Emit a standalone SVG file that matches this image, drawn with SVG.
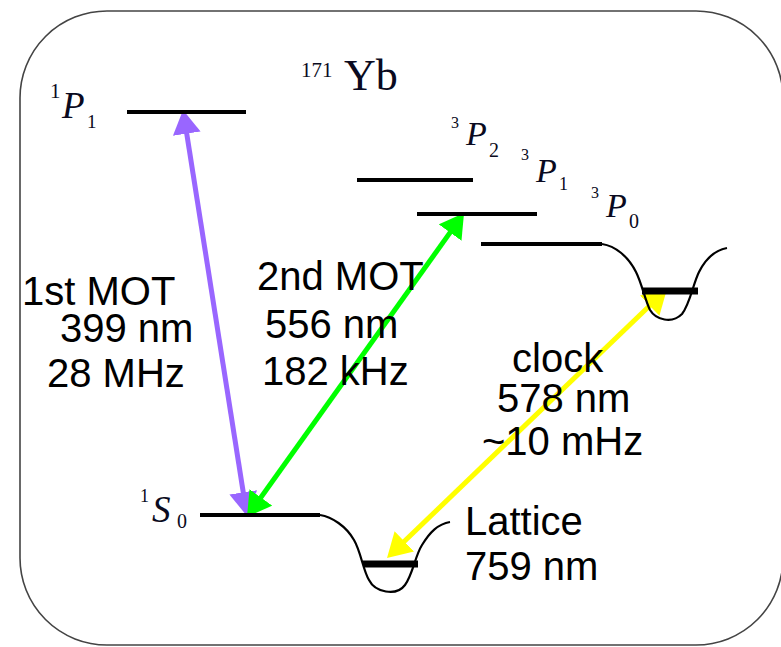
<svg xmlns="http://www.w3.org/2000/svg" width="781" height="647" viewBox="0 0 781 647">
<defs>
<style>
.lvl{stroke:#000;stroke-width:4;fill:none}
.well{stroke:#000;stroke-width:7;fill:none}
.pot{stroke:#000;stroke-width:2.2;fill:none}
.lab{font-family:"Liberation Sans",Arial,sans-serif;font-size:40px;fill:#000}
.ser{font-family:"Liberation Serif","Times New Roman",serif;fill:#0a0a20}
.it{font-style:italic}
.arr{stroke-width:5;fill:none}
</style>
<marker id="hp" markerUnits="userSpaceOnUse" markerWidth="24" markerHeight="28" refX="10" refY="14" orient="auto-start-reverse" viewBox="0 0 24 28"><path d="M0,0 L24,14 L0,28 z" fill="#9966ff"/></marker>
<marker id="hg" markerUnits="userSpaceOnUse" markerWidth="24" markerHeight="28" refX="10" refY="14" orient="auto-start-reverse" viewBox="0 0 24 28"><path d="M0,0 L24,14 L0,28 z" fill="#00ff00"/></marker>
<marker id="hy" markerUnits="userSpaceOnUse" markerWidth="24" markerHeight="28" refX="10" refY="14" orient="auto-start-reverse" viewBox="0 0 24 28"><path d="M0,0 L24,14 L0,28 z" fill="#ffff00"/></marker>
</defs>
<rect x="0" y="0" width="781" height="647" fill="#fff"/>
<rect id="frame" x="20" y="11" width="763" height="634" rx="87" ry="87" fill="none" stroke="#444" stroke-width="1.6"/>

<g id="connectors">
<path class="arr" stroke="#9966ff" d="M185.2,123.8 L244.8,502.2" marker-start="url(#hp)" marker-end="url(#hp)"/>
<path class="arr" stroke="#00ff00" d="M255.1,505.6 L455.9,224.4" marker-start="url(#hg)" marker-end="url(#hg)"/>
<path class="arr" stroke="#ffff00" d="M397.1,548.3 L656.9,298.7" marker-start="url(#hy)" marker-end="url(#hy)"/>
</g>

<g id="P1">
<line class="lvl" x1="127" y1="112" x2="246" y2="112"/>
<text class="ser"><tspan x="50" y="98" font-size="21">1</tspan><tspan class="it" x="62" y="118" font-size="37">P</tspan><tspan x="87" y="128" font-size="19">1</tspan></text>
</g>

<g id="title">
<text class="ser"><tspan x="301" y="77" font-size="21">171</tspan><tspan x="344" y="90" font-size="44">Yb</tspan></text>
</g>

<g id="P2">
<line class="lvl" x1="357" y1="180" x2="473" y2="180"/>
<text class="ser"><tspan x="451" y="128" font-size="16">3</tspan><tspan class="it" x="466" y="145" font-size="34">P</tspan><tspan x="489" y="157" font-size="20">2</tspan></text>
</g>

<g id="P1t">
<line class="lvl" x1="417" y1="214" x2="537" y2="214"/>
<text class="ser"><tspan x="521" y="160" font-size="16">3</tspan><tspan class="it" x="536" y="182" font-size="34">P</tspan><tspan x="559" y="190" font-size="18">1</tspan></text>
</g>

<g id="P0">
<line class="lvl" x1="481" y1="244" x2="602" y2="244"/>
<path class="pot" d="M602,244 C615,246 628,256 636,272 C642,284 645,300 650,310 C656,320 672,324 682,314 C690,304 693,284 699,272 C706,258 716,250 727,248"/>
<line class="well" x1="642" y1="291" x2="698" y2="291"/>
<text class="ser"><tspan x="591" y="198" font-size="16">3</tspan><tspan class="it" x="606" y="217" font-size="34">P</tspan><tspan x="629" y="228" font-size="20">0</tspan></text>
</g>

<g id="S0">
<line class="lvl" x1="200" y1="515" x2="320" y2="515"/>
<path class="pot" d="M320,515 C332,517 346,526 354,540 C361,552 363,570 369,580 C375,592 396,597 405,585 C413,574 415,556 422,545 C430,532 438,524 450,522"/>
<line class="well" x1="363" y1="564" x2="418" y2="564"/>
<text class="ser"><tspan x="140" y="502" font-size="18">1</tspan><tspan class="it" x="152" y="522" font-size="37">S</tspan><tspan x="177" y="528" font-size="20">0</tspan></text>
</g>

<g id="mot1">
<text class="lab" x="22" y="305">1st MOT</text>
<text class="lab" x="60" y="342">399 nm</text>
<text class="lab" x="47" y="387">28 MHz</text>
</g>
<g id="mot2">
<text class="lab" x="257" y="290">2nd MOT</text>
<text class="lab" x="265" y="338">556 nm</text>
<text class="lab" x="262" y="385">182 kHz</text>
</g>
<g id="clock">
<text class="lab" x="512" y="372">clock</text>
<text class="lab" x="497" y="412">578 nm</text>
<text class="lab" x="482" y="455">~10 mHz</text>
</g>
<g id="lattice">
<text class="lab" x="465" y="535">Lattice</text>
<text class="lab" x="465" y="580">759 nm</text>
</g>
</svg>
